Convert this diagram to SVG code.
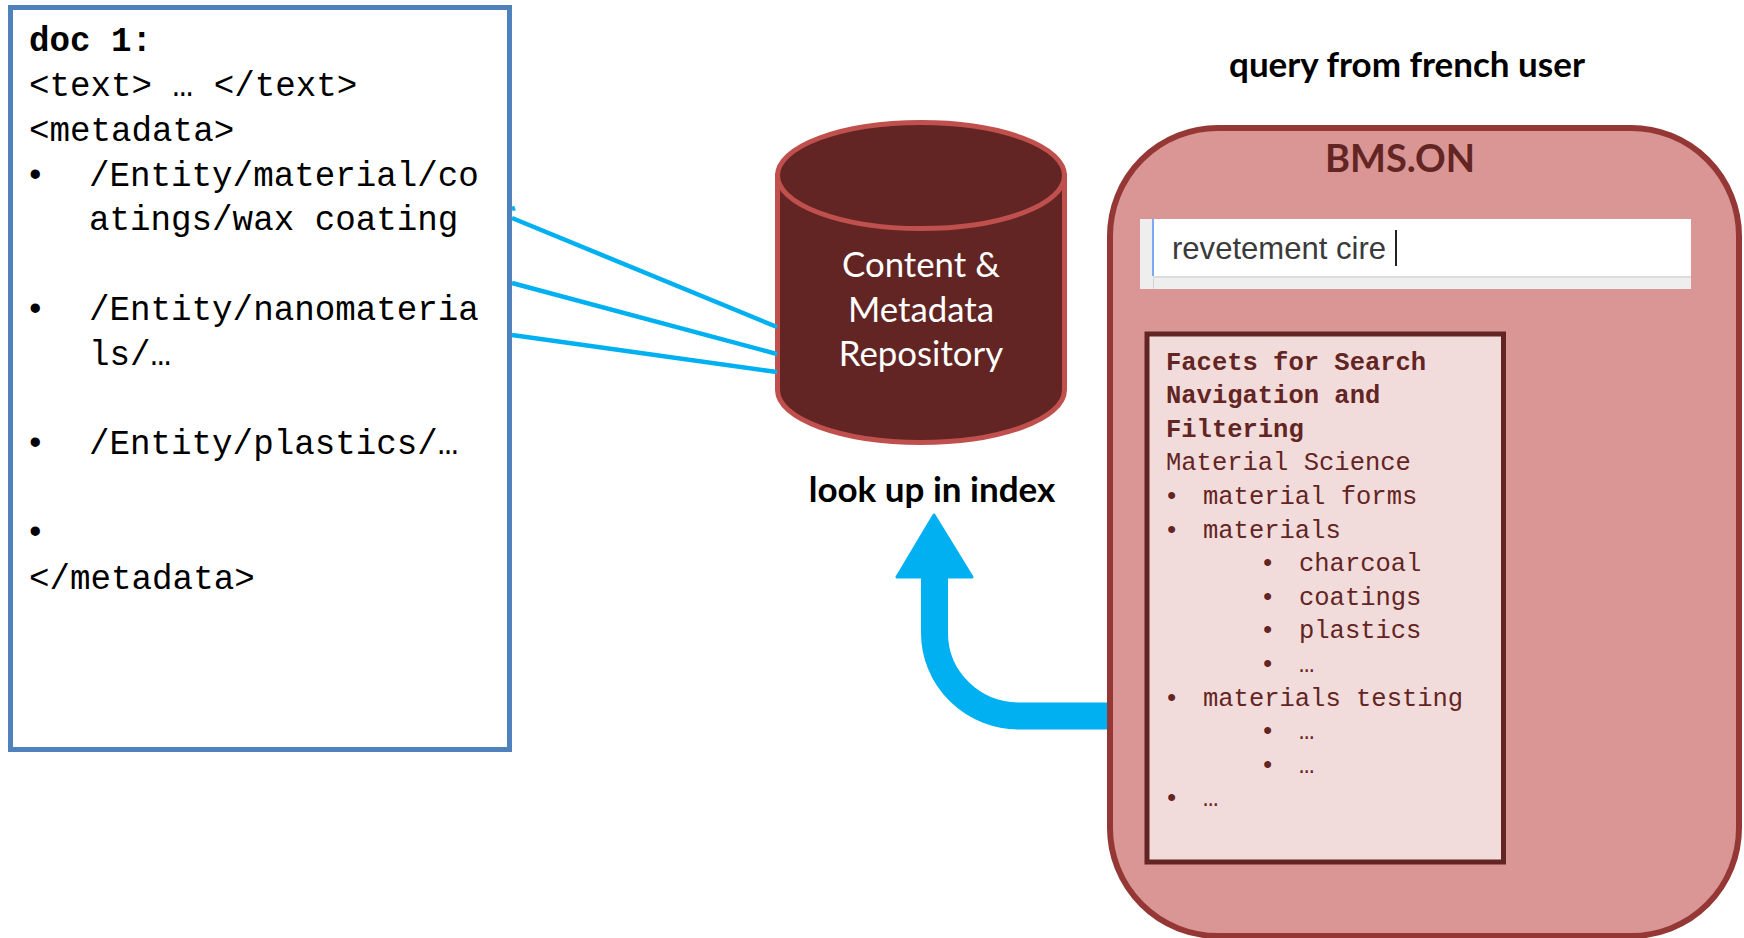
<svg xmlns="http://www.w3.org/2000/svg" width="1744" height="938" viewBox="0 0 1744 938">
<style>
.doc{font-family:"Liberation Mono","DejaVu Sans Mono",monospace;font-size:34.200px;fill:#000}
.fac{font-family:"Liberation Mono","DejaVu Sans Mono",monospace;font-size:25.500px;fill:#632523}
.b{font-weight:700}
.lato{font-family:Lato,"Noto Sans",sans-serif}
.lab{font-size:35px;font-weight:700;fill:#000;text-anchor:middle}
.cyl{font-size:34.800px;fill:#fff;text-anchor:middle}
.thin{stroke:#00b0f0;stroke-width:4.500;fill:none}
</style>
<rect width="1744" height="938" fill="#fff"/>
<g id="doc-box">
<rect x="10.500" y="7.500" width="499" height="742" fill="#fff" stroke="#4f81bd" stroke-width="5"/>
<text class="doc b" x="29" y="51">doc 1:</text>
<text class="doc" x="29" y="96">&lt;text&gt; … &lt;/text&gt;</text>
<text class="doc" x="29" y="141">&lt;metadata&gt;</text>
<text class="doc" x="25" y="186">•</text><text class="doc" x="89" y="186">/Entity/material/co</text>
<text class="doc" x="89" y="230">atings/wax coating</text>
<text class="doc" x="25" y="320">•</text><text class="doc" x="89" y="320">/Entity/nanomateria</text>
<text class="doc" x="89" y="365">ls/…</text>
<text class="doc" x="25" y="454">•</text><text class="doc" x="89" y="454">/Entity/plastics/…</text>
<text class="doc" x="25" y="543">•</text>
<text class="doc" x="29" y="589">&lt;/metadata&gt;</text>
</g>
<g id="repository">
<path d="M777.500 175.500V390C777.500 419 842 442.500 921 442.500S1064.500 419 1064.500 390V175.500Z" fill="#632523" stroke="#c0504d" stroke-width="5"/>
<ellipse cx="921" cy="175.500" rx="143.500" ry="53" fill="#632523" stroke="#c0504d" stroke-width="5"/>
<text class="lato cyl" x="921" y="277">Content &amp;</text>
<text class="lato cyl" x="921" y="322">Metadata</text>
<text class="lato cyl" x="921" y="366">Repository</text>
</g>
<text id="look-up-label" class="lato lab" x="932" y="502">look up in index</text>
<text id="query-label" class="lato lab" x="1407" y="77">query from french user</text>
<g id="bms-panel">
<rect x="1110" y="128" width="629" height="808" rx="108" ry="108" fill="#d99694" stroke="#953735" stroke-width="6"/>
<text class="lato b" x="1400" y="172" font-size="38" fill="#632523" text-anchor="middle">BMS.ON</text>
</g>
<g id="search-box">
<rect x="1140" y="219" width="551" height="70" fill="#eeeeee"/>
<rect x="1153" y="219" width="538" height="57" fill="#fff"/>
<rect x="1153" y="276" width="538" height="2" fill="#dcdcdc"/>
<rect x="1152" y="219" width="2" height="57" fill="#7baaf7"/>
<rect x="1153" y="278" width="1" height="11" fill="#d4d4d4"/>
<text x="1172" y="259" font-family="'Liberation Sans',Arial,sans-serif" font-size="32" fill="#3a3a3a" textLength="214" lengthAdjust="spacingAndGlyphs">revetement cire</text>
<rect x="1395" y="230" width="2" height="36" fill="#222"/>
</g>
<g id="facets-box">
<rect x="1147" y="334" width="356.500" height="528" fill="#f2dcdb" stroke="#632523" stroke-width="5"/>
<text class="fac b" x="1166" y="370">Facets for Search</text>
<text class="fac b" x="1166" y="403">Navigation and</text>
<text class="fac b" x="1166" y="437">Filtering</text>
<text class="fac" x="1166" y="470">Material Science</text>
<text class="fac" x="1164" y="504">•</text><text class="fac" x="1203" y="504">material forms</text>
<text class="fac" x="1164" y="538">•</text><text class="fac" x="1203" y="538">materials</text>
<text class="fac" x="1260" y="571">•</text><text class="fac" x="1299" y="571">charcoal</text>
<text class="fac" x="1260" y="605">•</text><text class="fac" x="1299" y="605">coatings</text>
<text class="fac" x="1260" y="638">•</text><text class="fac" x="1299" y="638">plastics</text>
<text class="fac" x="1260" y="672">•</text><text class="fac" x="1299" y="672">…</text>
<text class="fac" x="1164" y="706">•</text><text class="fac" x="1203" y="706">materials testing</text>
<text class="fac" x="1260" y="739">•</text><text class="fac" x="1299" y="739">…</text>
<text class="fac" x="1260" y="773">•</text><text class="fac" x="1299" y="773">…</text>
<text class="fac" x="1164" y="806">•</text><text class="fac" x="1203" y="806">…</text>
</g>
<g id="connectors">
<path class="thin" d="M512 218L777 327M512 283L777 354M512 335L777 372"/>
<path class="thin" d="M512 209L515 208"/>
<path d="M1107 716H1019A84.500 83 0 0 1 934.500 633V576" fill="none" stroke="#00b0f0" stroke-width="27"/>
<path d="M934 515L972 577H897Z" fill="#00b0f0" stroke="#00b0f0" stroke-width="3" stroke-linejoin="round"/>
</g>
</svg>
